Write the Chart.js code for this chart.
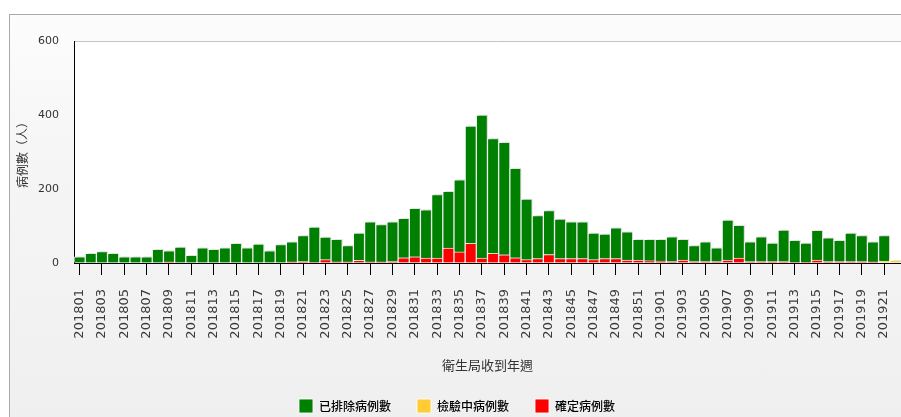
<!DOCTYPE html>
<html>
<head>
<meta charset="utf-8">
<script src="https://cdn.jsdelivr.net/npm/chart.js@4.4.1/dist/chart.umd.min.js"></script>
<style>
    html, body { margin: 0; padding: 0; background: #fff; overflow: hidden; width: 901px; height: 417px; }
    #frame {
        position: absolute; left: 9px; top: 14px; width: 940px; height: 450px;
        border-left: 1px solid #a9a9a9; border-top: 1px solid #a9a9a9;
        background: linear-gradient(to bottom, #fcfcfc 0px, #f5f5f5 160px, #efefef 420px);
    }
    #chart { position: absolute; left: 0; top: 0; }
</style>
</head>
<body>
<div id="frame"></div>
<canvas id="chart" width="925" height="423"></canvas>
<script>
// weeks received by the health bureau (yyyyww)
var weeks = [
    '201801','201802','201803','201804','201805','201806','201807','201808','201809','201810',
    '201811','201812','201813','201814','201815','201816','201817','201818','201819','201820',
    '201821','201822','201823','201824','201825','201826','201827','201828','201829','201830',
    '201831','201832','201833','201834','201835','201836','201837','201838','201839','201840',
    '201841','201842','201843','201844','201845','201846','201847','201848','201849','201850',
    '201851','201852','201901','201902','201903','201904','201905','201906','201907','201908',
    '201909','201910','201911','201912','201913','201914','201915','201916','201917','201918',
    '201919','201920','201921','201922'
];

// 已排除病例數
var excluded = [
    17, 26, 31, 26, 17, 17, 17, 37, 30, 43, 21, 41, 37, 41, 53, 41, 51, 33, 50, 54,
    70, 95, 61, 61, 44, 74, 108, 101, 107, 107, 131, 131, 172, 154, 195, 317, 387, 310, 304, 242,
    164, 116, 119, 107, 99, 99, 72, 66, 83, 76, 56, 58, 59, 67, 56, 43, 53, 37, 108, 89,
    53, 67, 50, 85, 59, 52, 80, 64, 57, 77, 70, 54, 69, 0
];

// 檢驗中病例數
var pending = [
    0, 0, 0, 0, 0, 0, 0, 0, 0, 0, 0, 0, 0, 0, 0, 0, 0, 0, 0, 0,
    0, 0, 0, 0, 0, 0, 0, 0, 0, 0, 0, 0, 0, 0, 0, 0, 0, 0, 0, 0,
    0, 0, 0, 0, 0, 0, 0, 0, 0, 0, 0, 0, 0, 0, 0, 0, 0, 0, 0, 0,
    0, 0, 0, 0, 0, 0, 0, 0, 0, 0, 0, 0, 5, 7
];

// 確定病例數
var confirmed = [
    0, 0, 0, 0, 0, 0, 0, 0, 3, 0, 0, 0, 0, 0, 0, 0, 0, 0, 0, 3,
    4, 2, 9, 3, 3, 7, 3, 3, 4, 14, 17, 13, 13, 40, 30, 53, 13, 26, 22, 14,
    9, 12, 23, 12, 12, 12, 9, 12, 12, 8, 8, 6, 5, 4, 8, 4, 4, 4, 8, 13,
    4, 4, 4, 4, 2, 2, 8, 4, 4, 4, 4, 3, 0, 0
];

var yTicks = [0, 200, 400, 600];

Chart.defaults.font.family = 'DejaVu Sans';

// white plot area with a thin grey top edge
var plotBackground = {
    id: 'plotBackground',
    beforeDraw: function (chart) {
        var a = chart.chartArea;
        var ctx = chart.ctx;
        ctx.save();
        ctx.fillStyle = '#ffffff';
        ctx.fillRect(a.left, a.top, a.right - a.left, a.bottom - a.top);
        ctx.strokeStyle = '#c4c4c4';
        ctx.lineWidth = 1;
        ctx.beginPath();
        ctx.moveTo(a.left, a.top + 0.5);
        ctx.lineTo(a.right + 20, a.top + 0.5);
        ctx.stroke();
        ctx.restore();
    }
};

// soft shadow behind the bars
var barShadow = {
    id: 'barShadow',
    beforeDatasetsDraw: function (chart) {
        var ctx = chart.ctx;
        ctx.save();
        ctx.shadowColor = 'rgba(0,0,0,0.16)';
        ctx.shadowOffsetX = 2;
        ctx.shadowOffsetY = -1;
        ctx.shadowBlur = 2;
    },
    afterDatasetsDraw: function (chart) {
        chart.ctx.restore();
    }
};

new Chart(document.getElementById('chart').getContext('2d'), {
    type: 'bar',
    data: {
        labels: weeks,
        datasets: [{
            label: '確定病例數',
            data: confirmed,
            backgroundColor: '#ff0000',
            borderColor: 'rgba(255,255,255,0.85)',
            borderWidth: 1
        }, {
            label: '檢驗中病例數',
            data: pending,
            backgroundColor: '#ffcc33',
            borderColor: 'rgba(255,255,255,0.85)',
            borderWidth: 1
        }, {
            label: '已排除病例數',
            data: excluded,
            backgroundColor: '#008000',
            borderColor: 'rgba(255,255,255,0.85)',
            borderWidth: 1
        }]
    },
    options: {
        responsive: false,
        animation: false,
        devicePixelRatio: 1,
        layout: { padding: { left: 4, right: 15, top: 41, bottom: 0 } },
        datasets: {
            bar: { categoryPercentage: 1, barPercentage: 1 }
        },
        scales: {
            x: {
                stacked: true,
                offset: true,
                border: { display: true, color: '#000', width: 1 },
                grid: {
                    offset: false,
                    drawOnChartArea: false,
                    drawTicks: true,
                    tickLength: 12,
                    color: function (c) { return c.index % 2 === 0 ? '#000' : 'rgba(0,0,0,0)'; }
                },
                ticks: {
                    autoSkip: false,
                    minRotation: 90,
                    maxRotation: 90,
                    padding: 14,
                    color: '#3c3c3c',
                    font: { family: 'DejaVu Sans', size: 13 },
                    callback: function (v, i) { return i % 2 === 0 ? weeks[i] : ''; }
                },
                title: {
                    display: true,
                    text: '衛生局收到年週',
                    color: '#333',
                    font: { family: 'Noto Sans CJK TC', size: 13 },
                    padding: { top: 2, bottom: 0 }
                },
                afterFit: function (s) { s.height = 110; }
            },
            y: {
                stacked: true,
                min: 0,
                max: 600,
                border: { display: true, color: '#000', width: 1 },
                grid: { drawOnChartArea: false, drawTicks: false },
                afterBuildTicks: function (s) {
                    s.ticks = yTicks.map(function (v) { return { value: v }; });
                },
                ticks: {
                    padding: 15,
                    color: '#333',
                    font: { family: 'DejaVu Sans', size: 11 }
                },
                title: {
                    display: true,
                    text: '病例數（人）',
                    color: '#333',
                    font: { family: 'Noto Sans CJK TC', size: 12 },
                    padding: { top: 11, bottom: 0 }
                },
                afterFit: function (s) { s.width = 70; }
            }
        },
        plugins: {
            legend: {
                position: 'bottom',
                reverse: true,
                labels: {
                    boxWidth: 14,
                    boxHeight: 14,
                    padding: 26,
                    color: '#000',
                    font: { family: 'Noto Sans CJK TC', size: 12, weight: '500' }
                }
            },
            tooltip: { enabled: false }
        }
    },
    plugins: [plotBackground, barShadow]
});
</script>
</body>
</html>
